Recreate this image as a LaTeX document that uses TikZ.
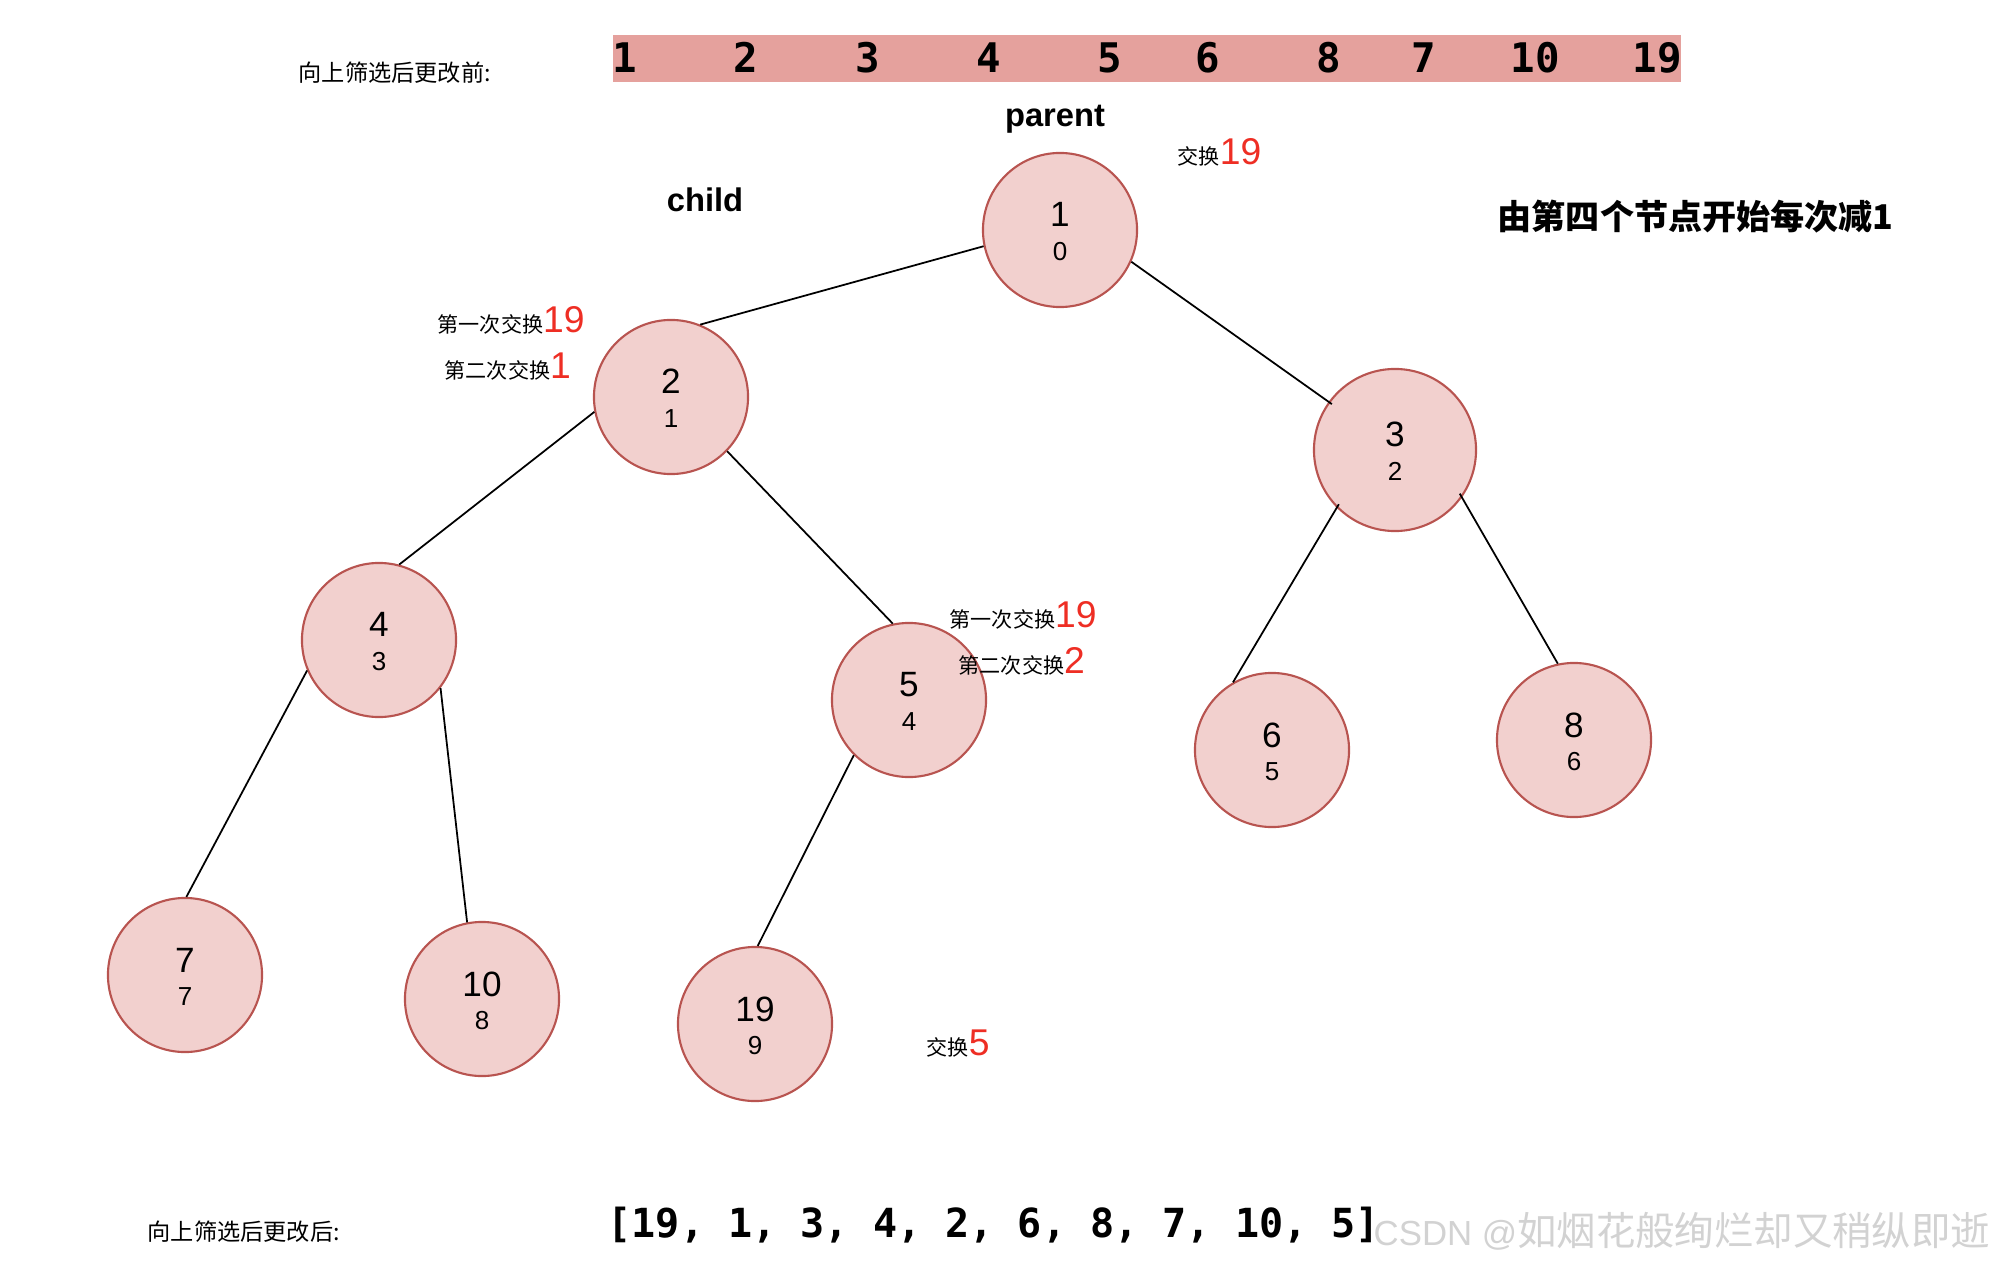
\documentclass[tikz,border=0pt]{standalone}
\usepackage{fontspec}
\setmainfont{Liberation Sans}
\newfontfamily\cjkfont{Noto Sans CJK SC}
\newfontfamily\codefont{DejaVu Sans Mono}

\definecolor{nodefill}{HTML}{F2D0CE}
\definecolor{nodeline}{HTML}{B85450}
\definecolor{barfill}{HTML}{E5A19D}
\definecolor{swapred}{HTML}{EE2E24}

\newcommand{\swapnum}[1]{{\rmfamily\fontsize{10.6}{12}\selectfont\color{swapred}#1}}

\tikzset{
  heap/.style={circle, draw=nodeline, fill=nodefill, line width=0.6pt,
    minimum size=1.54cm, inner sep=0pt},
  valtxt/.style={anchor=base, inner sep=0pt, font=\fontsize{10}{12}\selectfont},
  idxtxt/.style={anchor=base, inner sep=0pt, font=\fontsize{7.4}{9}\selectfont},
  edge/.style={line width=0.5pt},
  note/.style={anchor=base west, inner sep=0pt, font=\cjkfont\fontsize{6}{7}\selectfont},
  code/.style={inner sep=0pt, font=\codefont\bfseries\fontsize{11.6}{13}\selectfont},
}

\begin{document}
\begin{tikzpicture}[x=0.01cm, y=-0.01cm]
    \useasboundingbox (0,0) rectangle (2000,1270);

    % array before
    \node[note, font=\cjkfont\fontsize{6.6}{8}\selectfont] (before) at (298,82) {向上筛选后更改前:};
    \node[fill=barfill, minimum width=10.68cm, minimum height=0.47cm, inner sep=0pt] (bar) at (1147,58.5) {};
    \foreach \v/\px [count=\k] in {1/625, 2/746, 3/868, 4/989, 5/1110, 6/1208, 8/1329, 7/1424, 10/1535, 19/1657}
        \node[code, anchor=base] (d\k) at (\px,73) {\v};

    \node[anchor=base, inner sep=0pt, font=\bfseries\fontsize{9.3}{11}\selectfont] (parent) at (1055,127) {parent};
    \node[anchor=base, inner sep=0pt, font=\bfseries\fontsize{9.3}{11}\selectfont] (child) at (705,212) {child};
    \node[note, font=\cjkfont\bfseries\fontsize{9.7}{12}\selectfont] (rule) at (1497,230) {由第四个节点开始每次减1};

    % heap
    \foreach \n/\px/\py/\v/\i in {n0/1060/230/1/0, n1/671/397/2/1, n2/1395/450/3/2,
        n3/379/640/4/3, n4/909/700/5/4, n5/1272/750/6/5, n6/1574/740/8/6,
        n7/185/975/7/7, n8/482/999/10/8, n9/755/1024/19/9} {
        \node[heap] (\n) at (\px,\py) {};
        \node[valtxt] (\n v) at ([yshift=0.03cm]\n.center) {\v};
        \node[idxtxt] (\n i) at ([yshift=-0.30cm]\n.center) {\i};
    }
    \node[heap, minimum size=1.62cm] at (n2) {};
    \node[valtxt] at ([yshift=0.03cm]n2.center) {3};
    \node[idxtxt] at ([yshift=-0.30cm]n2.center) {2};

    \draw[edge] (n0.192) -- (n1.68);
    \draw[edge] (n0.336) -- (n2.144);
    \draw[edge] (n1.191) -- (n3.75);
    \draw[edge] (n1.316) -- (n4.102);
    \draw[edge] (n2.224) -- (n5.120);
    \draw[edge] (n2.326) -- (n6.102);
    \draw[edge] (n3.203) -- (n7.89);
    \draw[edge] (n3.322) -- (n8.101);
    \draw[edge] (n4.225) -- (n9.88);

    % swaps
    \node[note] (swap0) at (1177,165) {交换\swapnum{19}};
    \node[note] (swap1a) at (437,333) {第一次交换\swapnum{19}};
    \node[note] (swap1b) at (444,379) {第二次交换\swapnum{1}};
    \node[note] (swap4a) at (949,627) {第一次交换\swapnum{19}};
    \node[note] (swap4b) at (958,673) {第二次交换\swapnum{2}};
    \node[note] (swap9) at (926,1055) {交换\swapnum{5}};

    % array after
    \node[note, font=\cjkfont\fontsize{6.6}{8}\selectfont] (afterlbl) at (147,1240) {向上筛选后更改后:};
    \node[code, anchor=base west, font=\codefont\bfseries\fontsize{11.4}{13}\selectfont] (after) at (607,1237) {[19, 1, 3, 4, 2, 6, 8, 7, 10, 5]};
    \node[anchor=base west, inner sep=0pt, text=gray!35, font=\fontsize{9.9}{12}\selectfont] (mark) at (1373,1245) {CSDN @{\cjkfont\fontsize{11.2}{13}\selectfont 如烟花般绚烂却又稍纵即逝}};
\end{tikzpicture}
\end{document}
